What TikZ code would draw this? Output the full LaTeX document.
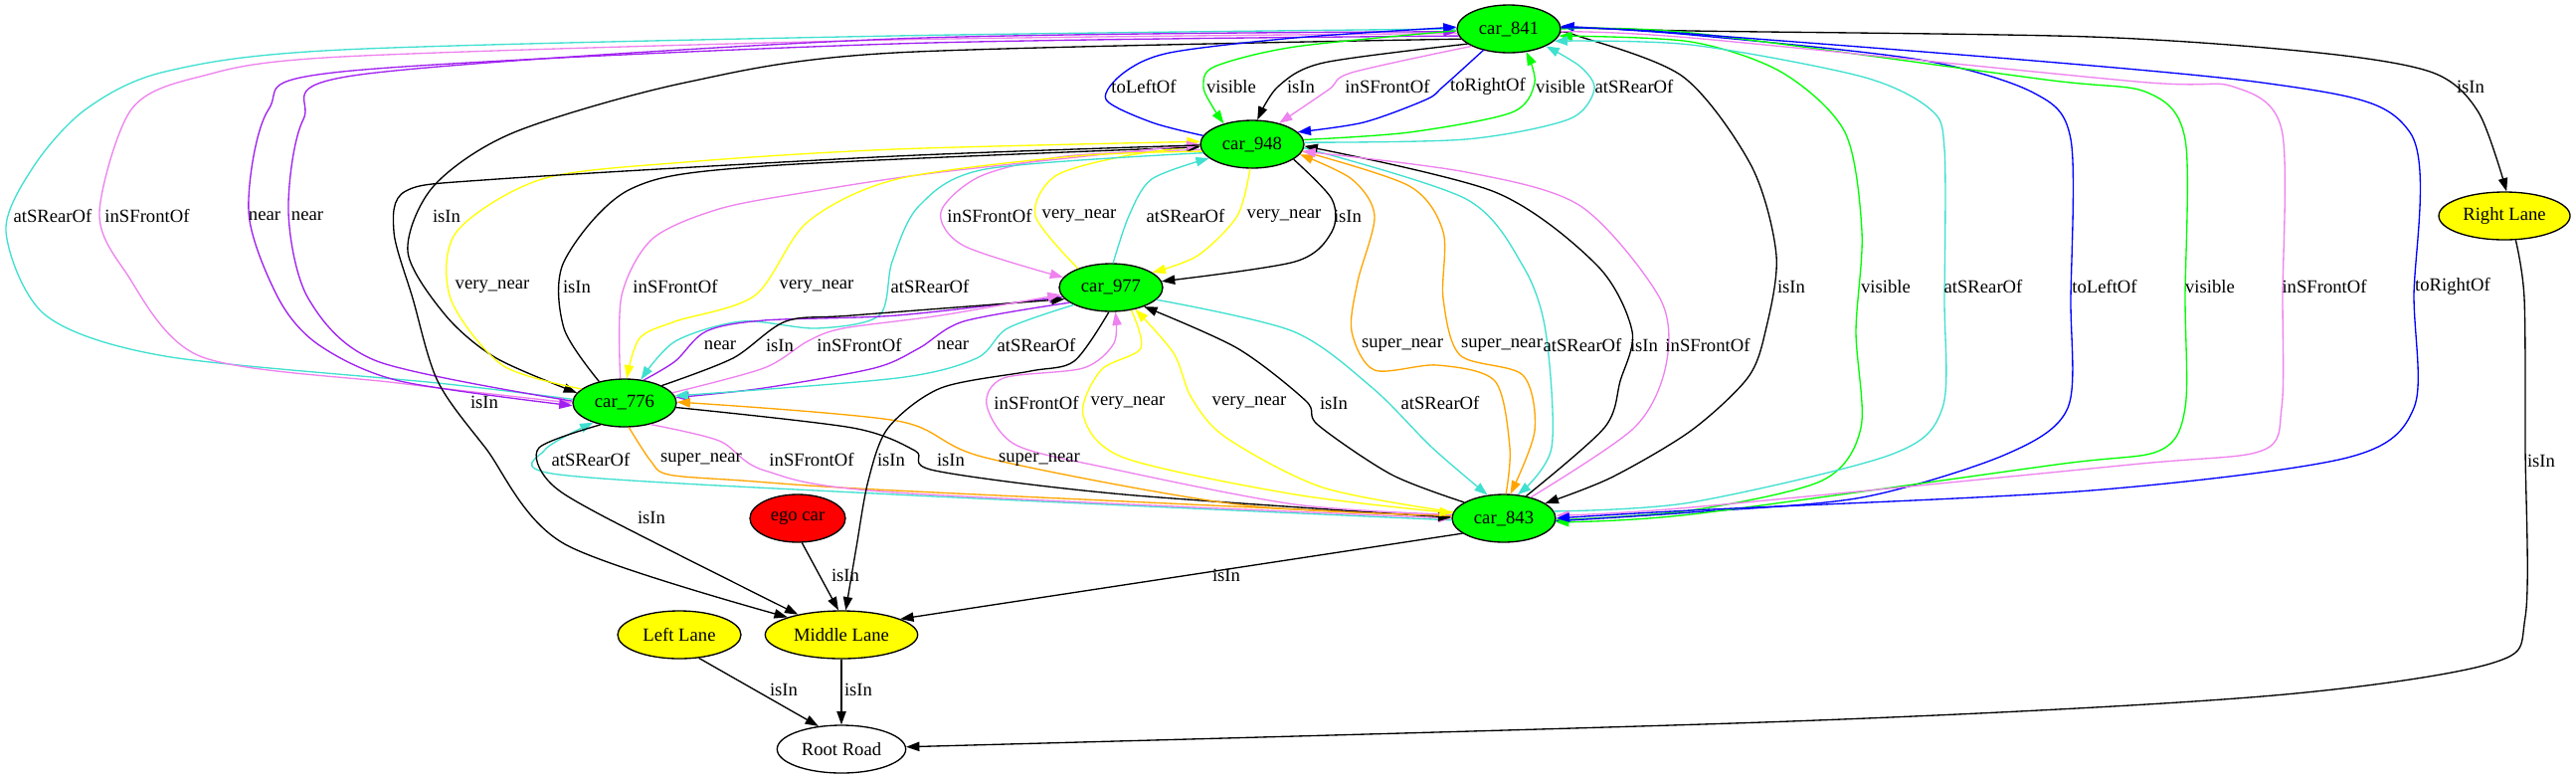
\documentclass[tikz,border=0pt]{standalone}
\usepackage{fontspec}
\setmainfont{Liberation Serif}
\usetikzlibrary{arrows.meta,shapes.geometric}
\definecolor{gvgreen}{RGB}{0,255,0}
\definecolor{gvyellow}{RGB}{255,255,0}
\definecolor{gvred}{RGB}{255,0,0}
\definecolor{gvblue}{RGB}{0,0,255}
\definecolor{gvturq}{RGB}{64,224,208}
\definecolor{gvviolet}{RGB}{238,130,238}
\definecolor{gvpurple}{RGB}{160,32,240}
\definecolor{gvorange}{RGB}{255,165,0}

\begin{document}
\begin{tikzpicture}[x=0.75pt, y=-0.75pt,
  every node/.style={font=\fontsize{14}{16}\selectfont},
  blob/.style={ellipse, draw, line width=1pt, inner sep=0pt, minimum height=36pt},
  car/.style={blob, fill=gvgreen, minimum width=78pt},
  lane/.style={blob, fill=gvyellow},
  rel/.style={line width=1pt, -{Triangle[length=10pt,width=7pt]}},
  rIsIn/.style={rel, black},
  rVisible/.style={rel, gvgreen},
  rRear/.style={rel, gvturq},
  rFront/.style={rel, gvviolet},
  rLeft/.style={rel, gvblue},
  rRight/.style={rel, gvblue},
  rNear/.style={rel, gvpurple},
  rVNear/.style={rel, gvyellow},
  rSNear/.style={rel, gvorange},
  lbl/.style={inner sep=0pt}]
	%%%%% START %%%%%
	\useasboundingbox (0,0) rectangle (2590,783);
	
	% nodes
	\node[car] (c841) at (1517,29) {car\_841};
	\node[car] (c948) at (1259,145) {car\_948};
	\node[car] (c977) at (1117,289) {car\_977};
	\node[car] (c776) at (628,405) {car\_776};
	\node[car] (c843) at (1512,521) {car\_843};
	\node[blob, fill=gvred, minimum width=72pt] (ego) at (802,521) {ego car};
	\node[lane, minimum width=115pt] (ML) at (846,638) {Middle Lane};
	\node[lane, minimum width=93pt] (LL) at (683,638) {Left Lane};
	\node[lane, minimum width=99pt] (RL) at (2518,217) {Right Lane};
	\node[blob, minimum width=97pt] (RR) at (846,753) {Root Road};
	
	% car_841 <-> car_776 (far left)
	\draw[rRear] plot[smooth] coordinates {(c776.176) (440,385) (166,358) (46,317) (6,233) (34,167) (86,110) (166,72) (344,50) (900,36) (c841.180)};
	\draw[rFront] plot[smooth] coordinates {(c841.185) (900,40) (344,57) (201,77) (132,110) (100,213) (126,273) (201,358) (400,385) (c776.180)};
	\draw[rNear] plot[smooth] coordinates {(c841.188) (900,44) (344,72) (270,110) (250,213) (280,300) (321,347) (402,383) (c776.183)};
	\draw[rNear] plot[smooth] coordinates {(c776.178) (379,363) (310,300) (290,213) (305,120) (362,75) (900,39) (c841.183)};
	\draw[rIsIn] plot[smooth] coordinates {(c841.192) (900,53) (689,83) (517,133) (436,187) (410,253) (448,317) (499,360) (c776.168)};
	
	% car_841 <-> car_948
	\draw[rLeft] plot[smooth] coordinates {(c948.170) (1158,123) (1112,100) (1130,73) (1176,53) (1302,38) (c841.178)};
	\draw[rVisible] plot[smooth] coordinates {(c841.182) (1302,47) (1221,67) (1210,87) (1219,107) (c948.144)};
	\draw[rIsIn] plot[smooth] coordinates {(c841.200) (1331,63) (1285,87) (c948.78)};
	\draw[rFront] plot[smooth] coordinates {(c841.205) (1359,73) (1336,90) (c948.38)};
	\draw[rRight] plot[smooth] coordinates {(c841.220) (1451,87) (1434,100) (1371,123) (c948.15)};
	\draw[rVisible] plot[smooth] coordinates {(c948.5) (1417,133) (1520,113) (1543,83) (c841.307)};
	\draw[rRear] plot[smooth] coordinates {(c948.2) (1474,140) (1577,120) (1603,90) (1589,67) (c841.335)};
	
	% car_841 -> lanes, car_841 <-> car_843 (right loops)
	\draw[rIsIn] plot[smooth] coordinates {(c841.2) (1700,31) (2102,37) (2331,53) (2446,73) (2492,113) (RL.85)};
	\draw[rIsIn] plot[smooth] coordinates {(c841.355) (1583,35) (1692,77) (1761,167) (1786,257) (1775,333) (1757,380) (1700,433) (1620,480) (c843.20)};
	\draw[rVisible] plot[smooth] coordinates {(c843.358) (1700,513) (1832,483) (1871,430) (1866,333) (1872,233) (1855,133) (1792,73) (1700,42) (c841.352)};
	\draw[rRear] plot[smooth] coordinates {(c843.8) (1700,505) (1901,457) (1953,410) (1955,300) (1955,150) (1941,110) (1872,77) (1700,45) (c841.345)};
	\draw[rLeft] plot[smooth] coordinates {(c843.357) (1700,515) (1872,500) (2016,457) (2079,410) (2082,300) (2082,140) (2044,93) (1930,60) (1700,35) (c841.3)};
	\draw[rVisible] plot[smooth] coordinates {(c841.0) (1700,33) (2056,80) (2159,93) (2197,140) (2197,300) (2197,410) (2171,453) (2067,467) (1700,517) (c843.356)};
	\draw[rFront] plot[smooth] coordinates {(c841.357) (1700,38) (2148,82) (2245,87) (2294,130) (2295,300) (2294,410) (2274,453) (2142,467) (1700,510) (c843.3)};
	\draw[rRight] plot[smooth] coordinates {(c841.1) (1700,34) (2274,83) (2423,133) (2427,300) (2427,410) (2360,460) (2102,493) (1700,513) (c843.0)};
	
	% car_948 <-> car_977
	\draw[rFront] plot[smooth] coordinates {(c948.186) (1072,157) (986,177) (946,213) (969,247) (c977.168)};
	\draw[rVNear] plot[smooth] coordinates {(c977.150) (1041,217) (1061,177) (1130,157) (c948.182)};
	\draw[rRear] plot[smooth] coordinates {(c977.85) (1135,217) (1158,180) (c948.198)};
	\draw[rVNear] plot[smooth] coordinates {(c948.265) (1244,217) (1204,257) (c977.20)};
	\draw[rIsIn] plot[smooth] coordinates {(c948.340) (1339,200) (1339,233) (1302,263) (c977.7)};
	
	% car_948 <-> car_776
	\draw[rVNear] plot[smooth] coordinates {(c776.162) (505,367) (453,300) (459,233) (545,180) (689,163) (900,150) (c948.177)};
	\draw[rIsIn] plot[smooth] coordinates {(c776.140) (567,330) (567,263) (634,190) (768,167) (c948.183)};
	\draw[rFront] plot[smooth] coordinates {(c776.100) (625,297) (656,240) (723,210) (812,193) (946,173) (c948.180)};
	\draw[rVNear] plot[smooth] coordinates {(c948.188) (1080,157) (902,180) (812,223) (759,297) (679,323) (643,340) (c776.85)};
	\draw[rRear] plot[smooth] coordinates {(c948.190) (991,170) (924,207) (897,263) (884,317) (821,330) (746,323) (679,343) (c776.55)};
	
	% car_977 <-> car_776
	\draw[rNear] plot[smooth] coordinates {(c776.50) (679,363) (710,333) (768,322) (902,317) (c977.191)};
	\draw[rIsIn] plot[smooth] coordinates {(c776.25) (737,360) (790,323) (857,317) (c977.194)};
	\draw[rFront] plot[smooth] coordinates {(c776.12) (768,370) (812,343) (848,330) (946,317) (c977.188)};
	\draw[rNear] plot[smooth] coordinates {(c977.200) (969,323) (924,350) (879,370) (768,390) (c776.6)};
	\draw[rRear] plot[smooth] coordinates {(c977.205) (1013,330) (982,360) (902,380) (c776.8)};
	
	% car_776 <-> car_843
	\draw[rRear] plot[smooth] coordinates {(c843.182) (900,497) (562,477) (548,452) (c776.212)};
	\draw[rSNear] plot[smooth] coordinates {(c776.280) (654,463) (672,477) (746,483) (900,493) (c843.178)};
	\draw[rFront] plot[smooth] coordinates {(c776.320) (723,443) (769,473) (900,495) (c843.180)};
	\draw[rIsIn] plot[smooth] coordinates {(c776.355) (857,430) (920,453) (940,473) (1130,497) (c843.179)};
	\draw[rSNear] plot[smooth] coordinates {(c843.177) (1244,507) (991,460) (902,423) (c776.1)};
	
	% car_977 <-> car_843
	\draw[rFront] plot[smooth] coordinates {(c843.176) (1302,507) (1112,470) (1021,447) (992,407) (1009,380) (1089,370) (1120,345) (c977.280)};
	\draw[rVNear] plot[smooth] coordinates {(c977.312) (1147,350) (1107,372) (1089,417) (1130,460) (1302,497) (c843.174)};
	\draw[rVNear] plot[smooth] coordinates {(c843.173) (1330,490) (1233,440) (1198,400) (1180,355) (c977.318)};
	\draw[rIsIn] plot[smooth] coordinates {(c843.158) (1399,477) (1325,427) (1313,403) (1244,350) (c977.330)};
	\draw[rRear] plot[smooth] coordinates {(c977.345) (1300,333) (1380,390) (1440,450) (c843.125)};
	
	% car_948 <-> car_843
	\draw[rSNear] plot[smooth] coordinates {(c843.85) (1518,450) (1503,383) (1445,367) (1382,372) (1359,333) (1365,283) (1382,217) (1359,180) (c948.348)};
	\draw[rSNear] plot[smooth] coordinates {(c948.352) (1417,187) (1451,233) (1451,300) (1468,357) (1531,377) (1543,433) (c843.75)};
	\draw[rRear] plot[smooth] coordinates {(c948.356) (1474,200) (1531,267) (1554,333) (1560,450) (c843.60)};
	\draw[rIsIn] plot[smooth] coordinates {(c843.45) (1613,430) (1629,383) (1641,333) (1606,267) (1503,193) (c948.358)};
	\draw[rFront] plot[smooth] coordinates {(c843.38) (1643,430) (1675,367) (1669,300) (1589,207) (1474,173) (c948.352)};
	
	% lanes
	\draw[rIsIn] plot[smooth] coordinates {(c977.265) (1080,363) (1036,373) (946,390) (893,430) (873,483) (861,550) (ML.80)};
	\draw[rIsIn] plot[smooth] coordinates {(c776.222) (542,450) (551,483) (603,517) (ML.155)};
	\draw[rIsIn] plot[smooth] coordinates {(c948.181) (900,157) (500,180) (408,192) (396,233) (415,300) (440,383) (488,450) (568,547) (ML.162)};
	\draw[rIsIn] (ego.280) -- (ML.97);
	\draw[rIsIn] (c843.200) -- (ML.15);
	\draw[rIsIn] (LL.310) -- (RR.135);
	\draw[rIsIn] (ML.270) -- (RR.90);
	\draw[rIsIn] plot[smooth] coordinates {(RL.295) (2538,300) (2539,450) (2539,620) (2504,667) (2274,700) (1800,725) (RR.2)};
	
	% labels
	\node[lbl] (t01) at (53,217) {atSRearOf};
	\node[lbl] (t02) at (148,217) {inSFrontOf};
	\node[lbl] (t03) at (266,217) {near};
	\node[lbl] (t04) at (309,217) {near};
	\node[lbl] (t05) at (449,217) {isIn};
	\node[lbl] (t06) at (1150,87) {toLeftOf};
	\node[lbl] (t07) at (1238,87) {visible};
	\node[lbl] (t08) at (1308,87) {isIn};
	\node[lbl] (t09) at (1395,87) {inSFrontOf};
	\node[lbl] (t10) at (1496,87) {toRightOf};
	\node[lbl] (t11) at (1569,87) {visible};
	\node[lbl] (t12) at (1643,87) {atSRearOf};
	\node[lbl] (t13) at (2484,87) {isIn};
	\node[lbl] (t14) at (1801,288) {isIn};
	\node[lbl] (t15) at (1896,288) {visible};
	\node[lbl] (t16) at (1994,288) {atSRearOf};
	\node[lbl] (t17) at (2116,288) {toLeftOf};
	\node[lbl] (t18) at (2222,288) {visible};
	\node[lbl] (t19) at (2337,288) {inSFrontOf};
	\node[lbl] (t20) at (2466,288) {toRightOf};
	\node[lbl] (t21) at (995,217) {inSFrontOf};
	\node[lbl] (t22) at (1085,217) {very\_near};
	\node[lbl] (t23) at (1192,217) {atSRearOf};
	\node[lbl] (t24) at (1291,217) {very\_near};
	\node[lbl] (t25) at (1355,217) {isIn};
	\node[lbl] (t26) at (495,288) {very\_near};
	\node[lbl] (t27) at (580,288) {isIn};
	\node[lbl] (t28) at (679,288) {inSFrontOf};
	\node[lbl] (t29) at (821,288) {very\_near};
	\node[lbl] (t30) at (935,288) {atSRearOf};
	\node[lbl] (t31) at (724,347) {near};
	\node[lbl] (t32) at (784,347) {isIn};
	\node[lbl] (t33) at (864,347) {inSFrontOf};
	\node[lbl] (t34) at (958,347) {near};
	\node[lbl] (t35) at (1042,347) {atSRearOf};
	\node[lbl] (t36) at (594,462) {atSRearOf};
	\node[lbl] (t37) at (705,462) {super\_near};
	\node[lbl] (t38) at (816,462) {inSFrontOf};
	\node[lbl] (t39) at (896,462) {isIn};
	\node[lbl] (t40) at (956,462) {isIn};
	\node[lbl] (t41) at (1045,462) {super\_near};
	\node[lbl] (t42) at (1042,405) {inSFrontOf};
	\node[lbl] (t43) at (1134,405) {very\_near};
	\node[lbl] (t44) at (1256,405) {very\_near};
	\node[lbl] (t45) at (1341,405) {isIn};
	\node[lbl] (t46) at (1448,405) {atSRearOf};
	\node[lbl] (t47) at (1410,347) {super\_near};
	\node[lbl] (t48) at (1510,347) {super\_near};
	\node[lbl] (t49) at (1591,347) {atSRearOf};
	\node[lbl] (t50) at (1653,347) {isIn};
	\node[lbl] (t51) at (1717,347) {inSFrontOf};
	\node[lbl] (t52) at (655,520) {isIn};
	\node[lbl] (t53) at (487,404) {isIn};
	\node[lbl] (t54) at (850,578) {isIn};
	\node[lbl] (t55) at (1233,578) {isIn};
	\node[lbl] (t56) at (788,693) {isIn};
	\node[lbl] (t57) at (863,693) {isIn};
	\node[lbl] (t58) at (2555,463) {isIn};
	
	%%%%% END %%%%%
\end{tikzpicture}
\end{document}
